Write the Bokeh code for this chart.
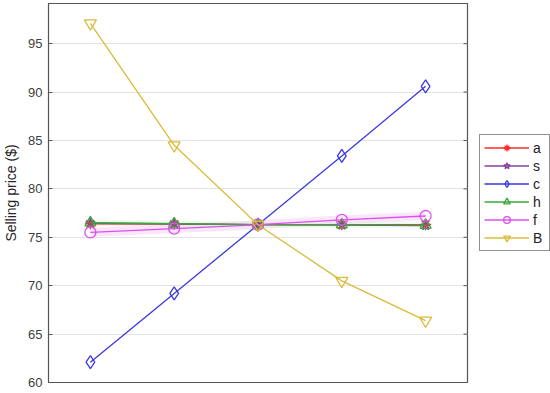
from bokeh.plotting import figure
from bokeh.models import Range1d, Legend, LegendItem, FixedTicker
from bokeh.embed import file_html
from bokeh.resources import INLINE

x = [1, 2, 3, 4, 5]
names = ["a", "s", "c", "h", "f", "B"]
a = [76.4, 76.35, 76.3, 76.3, 76.3]
s = [76.45, 76.4, 76.3, 76.25, 76.2]
c = [62.1, 69.2, 76.3, 83.4, 90.6]
h = [76.5, 76.4, 76.3, 76.3, 76.25]
f = [75.5, 75.9, 76.3, 76.8, 77.2]
B = [97.1, 84.5, 76.3, 70.5, 66.4]
yticks = [60, 65, 70, 75, 80, 85, 90, 95]

series = [a, s, c, h, f, B]
colors = ["#ff2a2a", "#8a3f9e", "#3a3ae0", "#3aa83a", "#dd4ff0", "#d9bb3a"]
markers = ["asterisk", "star", "diamond", "triangle", "circle", "inverted_triangle"]
sizes = [11, 10, 13, 11, 11, 12]

p = figure(frame_width=419, frame_height=379, output_backend="svg", toolbar_location=None,
           x_range=Range1d(0.5, 5.5), y_range=Range1d(60, 99.15),
           min_border_left=0, min_border_top=3, min_border_bottom=10, min_border_right=82)

p.xaxis.visible = False
p.xgrid.visible = False
p.ygrid.grid_line_color = "#e3e3e3"
p.outline_line_color = "#555555"
p.outline_line_width = 1.2

ax = p.yaxis[0]
ax.ticker = FixedTicker(ticks=yticks)
ax.axis_label = "Selling price ($)"
ax.axis_label_text_font = "Liberation Sans"
ax.axis_label_text_font_style = "normal"
ax.axis_label_text_font_size = "14px"
ax.axis_label_text_color = "#262626"
ax.axis_label_standoff = 6
ax.major_label_text_font = "Liberation Sans"
ax.major_label_text_font_size = "13px"
ax.major_label_text_color = "#404040"
ax.major_tick_in = 4
ax.major_tick_out = 0
ax.minor_tick_line_color = None
ax.axis_line_color = "#555555"
ax.major_tick_line_color = "#555555"
ax.major_label_standoff = 6

# right-edge inward ticks
p.segment(x0=[5.5] * len(yticks), y0=yticks, x1=[5.452] * len(yticks), y1=yticks,
          line_color="#555555", line_width=1)

# faint bands
p.varea(x=x, y1=[v - 0.45 for v in f], y2=[v + 0.45 for v in f], fill_color="#f4c6f4", fill_alpha=0.45)
p.varea(x=x, y1=[v - 0.3 for v in h], y2=[v + 0.3 for v in h], fill_color="#c8f0c8", fill_alpha=0.35)

items = []
for name, ys, col, mk, sz in zip(names, series, colors, markers, sizes):
    r1 = p.line(x, ys, line_color=col, line_width=1.3)
    r2 = p.scatter(x, ys, marker=mk, size=sz, line_color=col, fill_color=None, line_width=1.3)
    items.append(LegendItem(label=name, renderers=[r1, r2]))

legend = Legend(items=items, location=(12, 131))
legend.margin = 0
legend.padding = 4
legend.spacing = 1
legend.glyph_width = 45
legend.glyph_height = 17
legend.label_standoff = 4
legend.label_width = 12
legend.label_text_font = "Liberation Sans"
legend.label_text_font_size = "14px"
legend.label_text_color = "#222222"
legend.border_line_color = "#222222"
legend.border_line_width = 1
p.add_layout(legend, "right")

open("out.html", "w").write(file_html(p, INLINE))
